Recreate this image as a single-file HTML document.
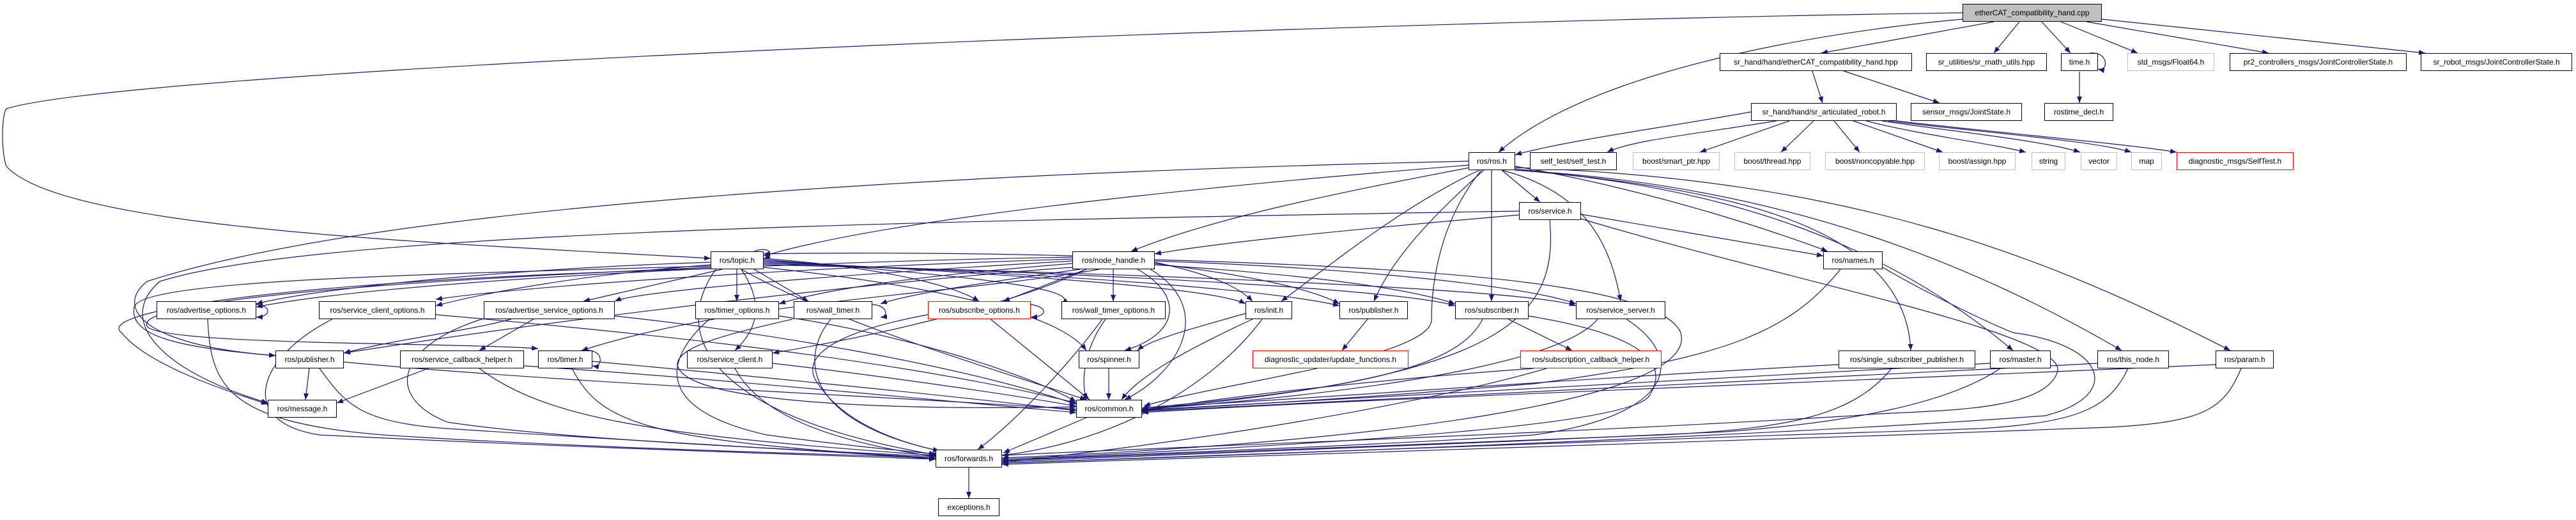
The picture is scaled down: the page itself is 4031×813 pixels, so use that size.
<!DOCTYPE html>
<html><head><meta charset="utf-8"><style>
html,body{margin:0;padding:0;background:#fff;}
#c{position:relative;width:4031px;height:813px;overflow:hidden;background:#fff;}
svg{position:absolute;left:0;top:0;}
.n{position:absolute;height:28px;box-sizing:border-box;border:1.3px solid #000;background:#fff;font:12px "Liberation Sans",sans-serif;color:#000;display:flex;align-items:center;justify-content:center;white-space:nowrap;}
.g{border-color:#bfbfbf;}
.r{border-color:#ff0000;}
</style></head><body><div id="c">
<svg width="4031" height="813" viewBox="0 0 4031 813">
<defs><marker id="a" viewBox="0 0 10 8" refX="10" refY="4" markerWidth="10" markerHeight="8" markerUnits="userSpaceOnUse" orient="auto"><path d="M0,0 L10,4 L0,8 z" fill="#191970"/></marker></defs>
<g fill="none" stroke="#191970" stroke-width="1.2" marker-end="url(#a)">
<path d="M3120 34 L2850 83"/>
<path d="M3160 34 L3120 83"/>
<path d="M3195 34 L3240 83"/>
<path d="M3225 34 L3345 83"/>
<path d="M3265 34 L3550 83"/>
<path d="M3289 30 L3795 83"/>
<path d="M3071 30 C2900 45, 2500 100, 2345 238"/>
<path d="M3071 20 C2000 35, 200 110, 10 170 C2 180, 2 240, 10 260 C100 360, 700 380, 1112 404"/>
<path d="M2836 111 L2852 161"/>
<path d="M2885 111 L3035 161"/>
<path d="M3254 112 L3254 161"/>
<path d="M3270 83 C3300 80, 3300 112, 3283 108"/>
<path d="M2740 175 C2600 200, 2450 220, 2371 242"/>
<path d="M2780 189 C2650 210, 2550 220, 2515 238"/>
<path d="M2800 189 L2660 238"/>
<path d="M2838 189 L2787 238"/>
<path d="M2870 189 L2910 238"/>
<path d="M2900 189 L3040 238"/>
<path d="M2920 189 C3000 210, 3120 225, 3170 238"/>
<path d="M2945 189 C3050 205, 3200 220, 3255 238"/>
<path d="M2955 189 C3080 205, 3280 220, 3335 238"/>
<path d="M2968 189 C3100 205, 3330 225, 3406 238"/>
<path d="M2350 266 L2410 316"/>
<path d="M2300 262 C2100 300, 1900 340, 1770 393"/>
<path d="M2298 252 C1500 270, 600 320, 230 440 C180 480, 220 540, 431 556"/>
<path d="M2300 258 C1900 290, 1400 340, 1195 400"/>
<path d="M2315 266 C2200 320, 2100 400, 2005 471"/>
<path d="M2322 266 C2250 330, 2180 400, 2150 471"/>
<path d="M2334 266 L2334 471"/>
<path d="M2350 266 C2480 300, 2520 380, 2536 471"/>
<path d="M2318 266 C2250 350, 2240 450, 2240 500 C2240 560, 1900 600, 1790 635"/>
<path d="M2371 260 C2600 300, 2800 370, 2860 393"/>
<path d="M2371 264 C2600 290, 2980 320, 2990 548"/>
<path d="M2371 266 C2700 290, 2950 380, 3150 548"/>
<path d="M2371 266 C2800 290, 3100 420, 3320 548"/>
<path d="M2371 262 C2900 280, 3200 400, 3490 548"/>
<path d="M2377 336 C2100 360, 1900 380, 1807 397"/>
<path d="M2474 335 L2853 400"/>
<path d="M2474 342 C2800 440, 3230 520, 3220 580 C3200 650, 3000 640, 2900 650 C2400 680, 1800 700, 1568 712"/>
<path d="M2425 344 C2440 500, 2350 590, 1787 640"/>
<path d="M2377 330 C1500 345, 500 360, 250 440 C180 500, 250 580, 419 630"/>
<path d="M1112 410 C800 420, 500 450, 401 475"/>
<path d="M1112 414 C900 430, 750 460, 682 478"/>
<path d="M1130 421 L913 471"/>
<path d="M1153 421 L1153 471"/>
<path d="M1180 421 L1265 471"/>
<path d="M1112 416 C600 430, 220 440, 210 480 C200 530, 300 545, 431 556"/>
<path d="M1112 418 C600 440, 210 470, 230 510 C250 540, 700 535, 842 545"/>
<path d="M1160 421 C1200 480, 1180 520, 1150 548"/>
<path d="M1160 421 C1300 500, 1500 560, 1700 625"/>
<path d="M1120 421 C1050 520, 1100 650, 1470 712"/>
<path d="M1112 420 C400 440, 150 490, 190 520 C230 570, 350 610, 419 632"/>
<path d="M1195 404 C1400 420, 1500 450, 1532 471"/>
<path d="M1195 406 C1500 430, 1700 450, 1661 475"/>
<path d="M1195 408 C1600 430, 1900 450, 1949 475"/>
<path d="M1195 410 C1700 430, 2000 455, 2096 478"/>
<path d="M1195 412 C1800 430, 2200 455, 2277 478"/>
<path d="M1195 414 C1900 430, 2400 455, 2466 478"/>
<path d="M1180 393 C1200 385, 1215 395, 1195 405"/>
<path d="M1195 418 C1400 440, 1650 480, 1700 548"/>
<path d="M1678 400 C1500 395, 1300 395, 1195 397"/>
<path d="M1678 402 C1200 410, 600 440, 401 480"/>
<path d="M1678 405 C1200 420, 800 450, 682 468"/>
<path d="M1678 408 C1300 430, 1000 455, 962 471"/>
<path d="M1678 412 C1450 430, 1300 450, 1219 475"/>
<path d="M1690 421 C1550 440, 1420 460, 1378 475"/>
<path d="M1700 421 L1570 471"/>
<path d="M1742 421 L1742 471"/>
<path d="M1807 410 C1900 430, 1940 450, 1960 471"/>
<path d="M1807 412 C1950 430, 2050 450, 2096 475"/>
<path d="M1807 414 C2050 430, 2200 450, 2277 475"/>
<path d="M1807 408 C2150 420, 2400 450, 2466 475"/>
<path d="M1780 421 C1850 460, 1850 520, 1760 548"/>
<path d="M1800 421 C1900 480, 1850 580, 1760 625"/>
<path d="M1807 406 C2300 420, 2600 450, 2630 520 C2660 620, 2200 690, 1568 716"/>
<path d="M1678 418 C1500 430, 1000 480, 538 552"/>
<path d="M1720 421 C1500 460, 1150 470, 910 548"/>
<path d="M1700 421 C1600 470, 1400 520, 1209 552"/>
<path d="M325 499 C330 600, 350 660, 600 680 C900 700, 1300 710, 1464 716"/>
<path d="M401 476 C425 478, 425 495, 401 496"/>
<path d="M520 499 C400 560, 370 660, 500 680 C900 700, 1300 712, 1464 718"/>
<path d="M682 492 C1000 520, 1400 560, 1684 630"/>
<path d="M800 499 C720 520, 620 530, 538 552"/>
<path d="M835 499 L750 548"/>
<path d="M962 494 C1200 520, 1500 570, 1684 632"/>
<path d="M760 497 C620 540, 600 620, 700 660 C900 690, 1300 705, 1464 714"/>
<path d="M1110 499 C1040 560, 1020 640, 1200 680 C1350 700, 1420 705, 1464 710"/>
<path d="M1219 494 C1400 520, 1600 580, 1684 628"/>
<path d="M1240 499 C1150 520, 1060 540, 1060 570 C1070 640, 1500 640, 1684 636"/>
<path d="M1365 476 C1390 478, 1390 495, 1378 496"/>
<path d="M1300 499 C1250 560, 1260 660, 1470 705"/>
<path d="M1550 499 L1705 625"/>
<path d="M1613 476 C1640 480, 1640 495, 1613 496"/>
<path d="M1452 492 C1300 520, 1250 560, 1280 600 C1320 660, 1400 690, 1470 705"/>
<path d="M1725 499 C1680 560, 1600 650, 1530 703"/>
<path d="M1730 499 C1700 540, 1690 590, 1700 625"/>
<path d="M1949 490 C1880 510, 1800 530, 1780 548"/>
<path d="M1960 499 C1850 550, 1780 590, 1755 625"/>
<path d="M1975 499 C1900 600, 1750 690, 1568 712"/>
<path d="M2140 499 L2100 548"/>
<path d="M2360 499 L2460 548"/>
<path d="M2320 499 C2280 580, 2100 610, 1787 638"/>
<path d="M2392 494 C2550 520, 2620 560, 2580 620 C2550 660, 2200 690, 1568 718"/>
<path d="M2500 499 C2450 560, 2200 610, 1787 640"/>
<path d="M2545 499 C2640 560, 2620 650, 2400 680 C2100 700, 1700 712, 1568 720"/>
<path d="M2400 576 C2200 590, 1900 620, 1787 644"/>
<path d="M2420 576 C2200 640, 1800 700, 1568 722"/>
<path d="M484 576 L478 625"/>
<path d="M500 576 C540 630, 560 660, 700 670 C1000 690, 1300 705, 1464 718"/>
<path d="M538 566 C900 600, 1400 620, 1684 640"/>
<path d="M670 576 L527 630"/>
<path d="M750 576 C850 650, 1000 680, 1464 712"/>
<path d="M820 572 C1100 590, 1400 620, 1684 645"/>
<path d="M895 576 C940 660, 1000 690, 1464 716"/>
<path d="M927 565 C1200 590, 1500 620, 1684 642"/>
<path d="M915 548 C945 545, 945 575, 927 572"/>
<path d="M1150 576 C1190 650, 1300 690, 1464 714"/>
<path d="M1209 568 C1400 590, 1600 620, 1684 635"/>
<path d="M1735 576 L1735 625"/>
<path d="M2877 570 C2500 590, 2100 620, 1787 638"/>
<path d="M2960 576 C2900 650, 2800 670, 2600 680 C2200 695, 1800 708, 1568 720"/>
<path d="M3114 568 C2600 595, 2100 620, 1787 641"/>
<path d="M3130 576 C3050 630, 2900 660, 2700 675 C2300 695, 1800 710, 1568 722"/>
<path d="M3282 568 C2700 600, 2100 625, 1787 643"/>
<path d="M3330 576 C3300 640, 3250 660, 3100 670 C2500 690, 1800 712, 1568 724"/>
<path d="M3467 570 C2800 600, 2100 625, 1787 645"/>
<path d="M3507 576 C3480 640, 3450 660, 3300 668 C2600 695, 1800 715, 1568 726"/>
<path d="M2880 421 C2800 520, 2700 560, 2400 600 C2100 625, 1900 635, 1787 642"/>
<path d="M2946 418 C3000 450, 3100 500, 3150 520 C3300 540, 3320 620, 3200 650 C2800 680, 2000 710, 1568 724"/>
<path d="M1700 653 L1570 708"/>
<path d="M1516 731 L1516 779"/>
</g></svg>
<div class="n" style="left:3071px;top:6px;width:218px;background:#bfbfbf">etherCAT_compatibility_hand.cpp</div>
<div class="n" style="left:2691px;top:83px;width:301px">sr_hand/hand/etherCAT_compatibility_hand.hpp</div>
<div class="n" style="left:3014px;top:83px;width:189px">sr_utilities/sr_math_utils.hpp</div>
<div class="n" style="left:3225px;top:83px;width:58px">time.h</div>
<div class="n g" style="left:3329px;top:83px;width:136px">std_msgs/Float64.h</div>
<div class="n" style="left:3489px;top:83px;width:277px">pr2_controllers_msgs/JointControllerState.h</div>
<div class="n" style="left:3788px;top:83px;width:237px">sr_robot_msgs/JointControllerState.h</div>
<div class="n" style="left:2740px;top:161px;width:228px">sr_hand/hand/sr_articulated_robot.h</div>
<div class="n" style="left:2990px;top:161px;width:174px">sensor_msgs/JointState.h</div>
<div class="n" style="left:3199px;top:161px;width:108px">rostime_decl.h</div>
<div class="n" style="left:2298px;top:238px;width:73px">ros/ros.h</div>
<div class="n" style="left:2394px;top:238px;width:136px">self_test/self_test.h</div>
<div class="n g" style="left:2555px;top:238px;width:136px">boost/smart_ptr.hpp</div>
<div class="n g" style="left:2714px;top:238px;width:119px">boost/thread.hpp</div>
<div class="n g" style="left:2856px;top:238px;width:156px">boost/noncopyable.hpp</div>
<div class="n g" style="left:3034px;top:238px;width:120px">boost/assign.hpp</div>
<div class="n g" style="left:3179px;top:238px;width:53px">string</div>
<div class="n g" style="left:3256px;top:238px;width:57px">vector</div>
<div class="n g" style="left:3335px;top:238px;width:48px">map</div>
<div class="n r" style="left:3406px;top:238px;width:183px">diagnostic_msgs/SelfTest.h</div>
<div class="n" style="left:2377px;top:316px;width:97px">ros/service.h</div>
<div class="n" style="left:1112px;top:393px;width:83px">ros/topic.h</div>
<div class="n" style="left:1678px;top:393px;width:129px">ros/node_handle.h</div>
<div class="n" style="left:2853px;top:393px;width:93px">ros/names.h</div>
<div class="n" style="left:245px;top:471px;width:156px">ros/advertise_options.h</div>
<div class="n" style="left:499px;top:471px;width:183px">ros/service_client_options.h</div>
<div class="n" style="left:757px;top:471px;width:205px">ros/advertise_service_options.h</div>
<div class="n" style="left:1088px;top:471px;width:131px">ros/timer_options.h</div>
<div class="n" style="left:1242px;top:471px;width:123px">ros/wall_timer.h</div>
<div class="n r" style="left:1452px;top:471px;width:161px">ros/subscribe_options.h</div>
<div class="n" style="left:1661px;top:471px;width:163px">ros/wall_timer_options.h</div>
<div class="n" style="left:1949px;top:471px;width:73px">ros/init.h</div>
<div class="n" style="left:2096px;top:471px;width:107px">ros/publisher.h</div>
<div class="n" style="left:2277px;top:471px;width:115px">ros/subscriber.h</div>
<div class="n" style="left:2466px;top:471px;width:140px">ros/service_server.h</div>
<div class="n" style="left:431px;top:548px;width:107px">ros/publisher.h</div>
<div class="n" style="left:626px;top:548px;width:194px">ros/service_callback_helper.h</div>
<div class="n" style="left:842px;top:548px;width:85px">ros/timer.h</div>
<div class="n" style="left:1075px;top:548px;width:134px">ros/service_client.h</div>
<div class="n" style="left:1688px;top:548px;width:95px">ros/spinner.h</div>
<div class="n r" style="left:1960px;top:548px;width:244px">diagnostic_updater/update_functions.h</div>
<div class="n r" style="left:2379px;top:548px;width:221px">ros/subscription_callback_helper.h</div>
<div class="n" style="left:2877px;top:548px;width:214px">ros/single_subscriber_publisher.h</div>
<div class="n" style="left:3114px;top:548px;width:95px">ros/master.h</div>
<div class="n" style="left:3282px;top:548px;width:112px">ros/this_node.h</div>
<div class="n" style="left:3467px;top:548px;width:91px">ros/param.h</div>
<div class="n" style="left:419px;top:625px;width:108px">ros/message.h</div>
<div class="n" style="left:1684px;top:625px;width:103px">ros/common.h</div>
<div class="n" style="left:1464px;top:703px;width:104px">ros/forwards.h</div>
<div class="n" style="left:1468px;top:779px;width:96px">exceptions.h</div>
</div></body></html>
